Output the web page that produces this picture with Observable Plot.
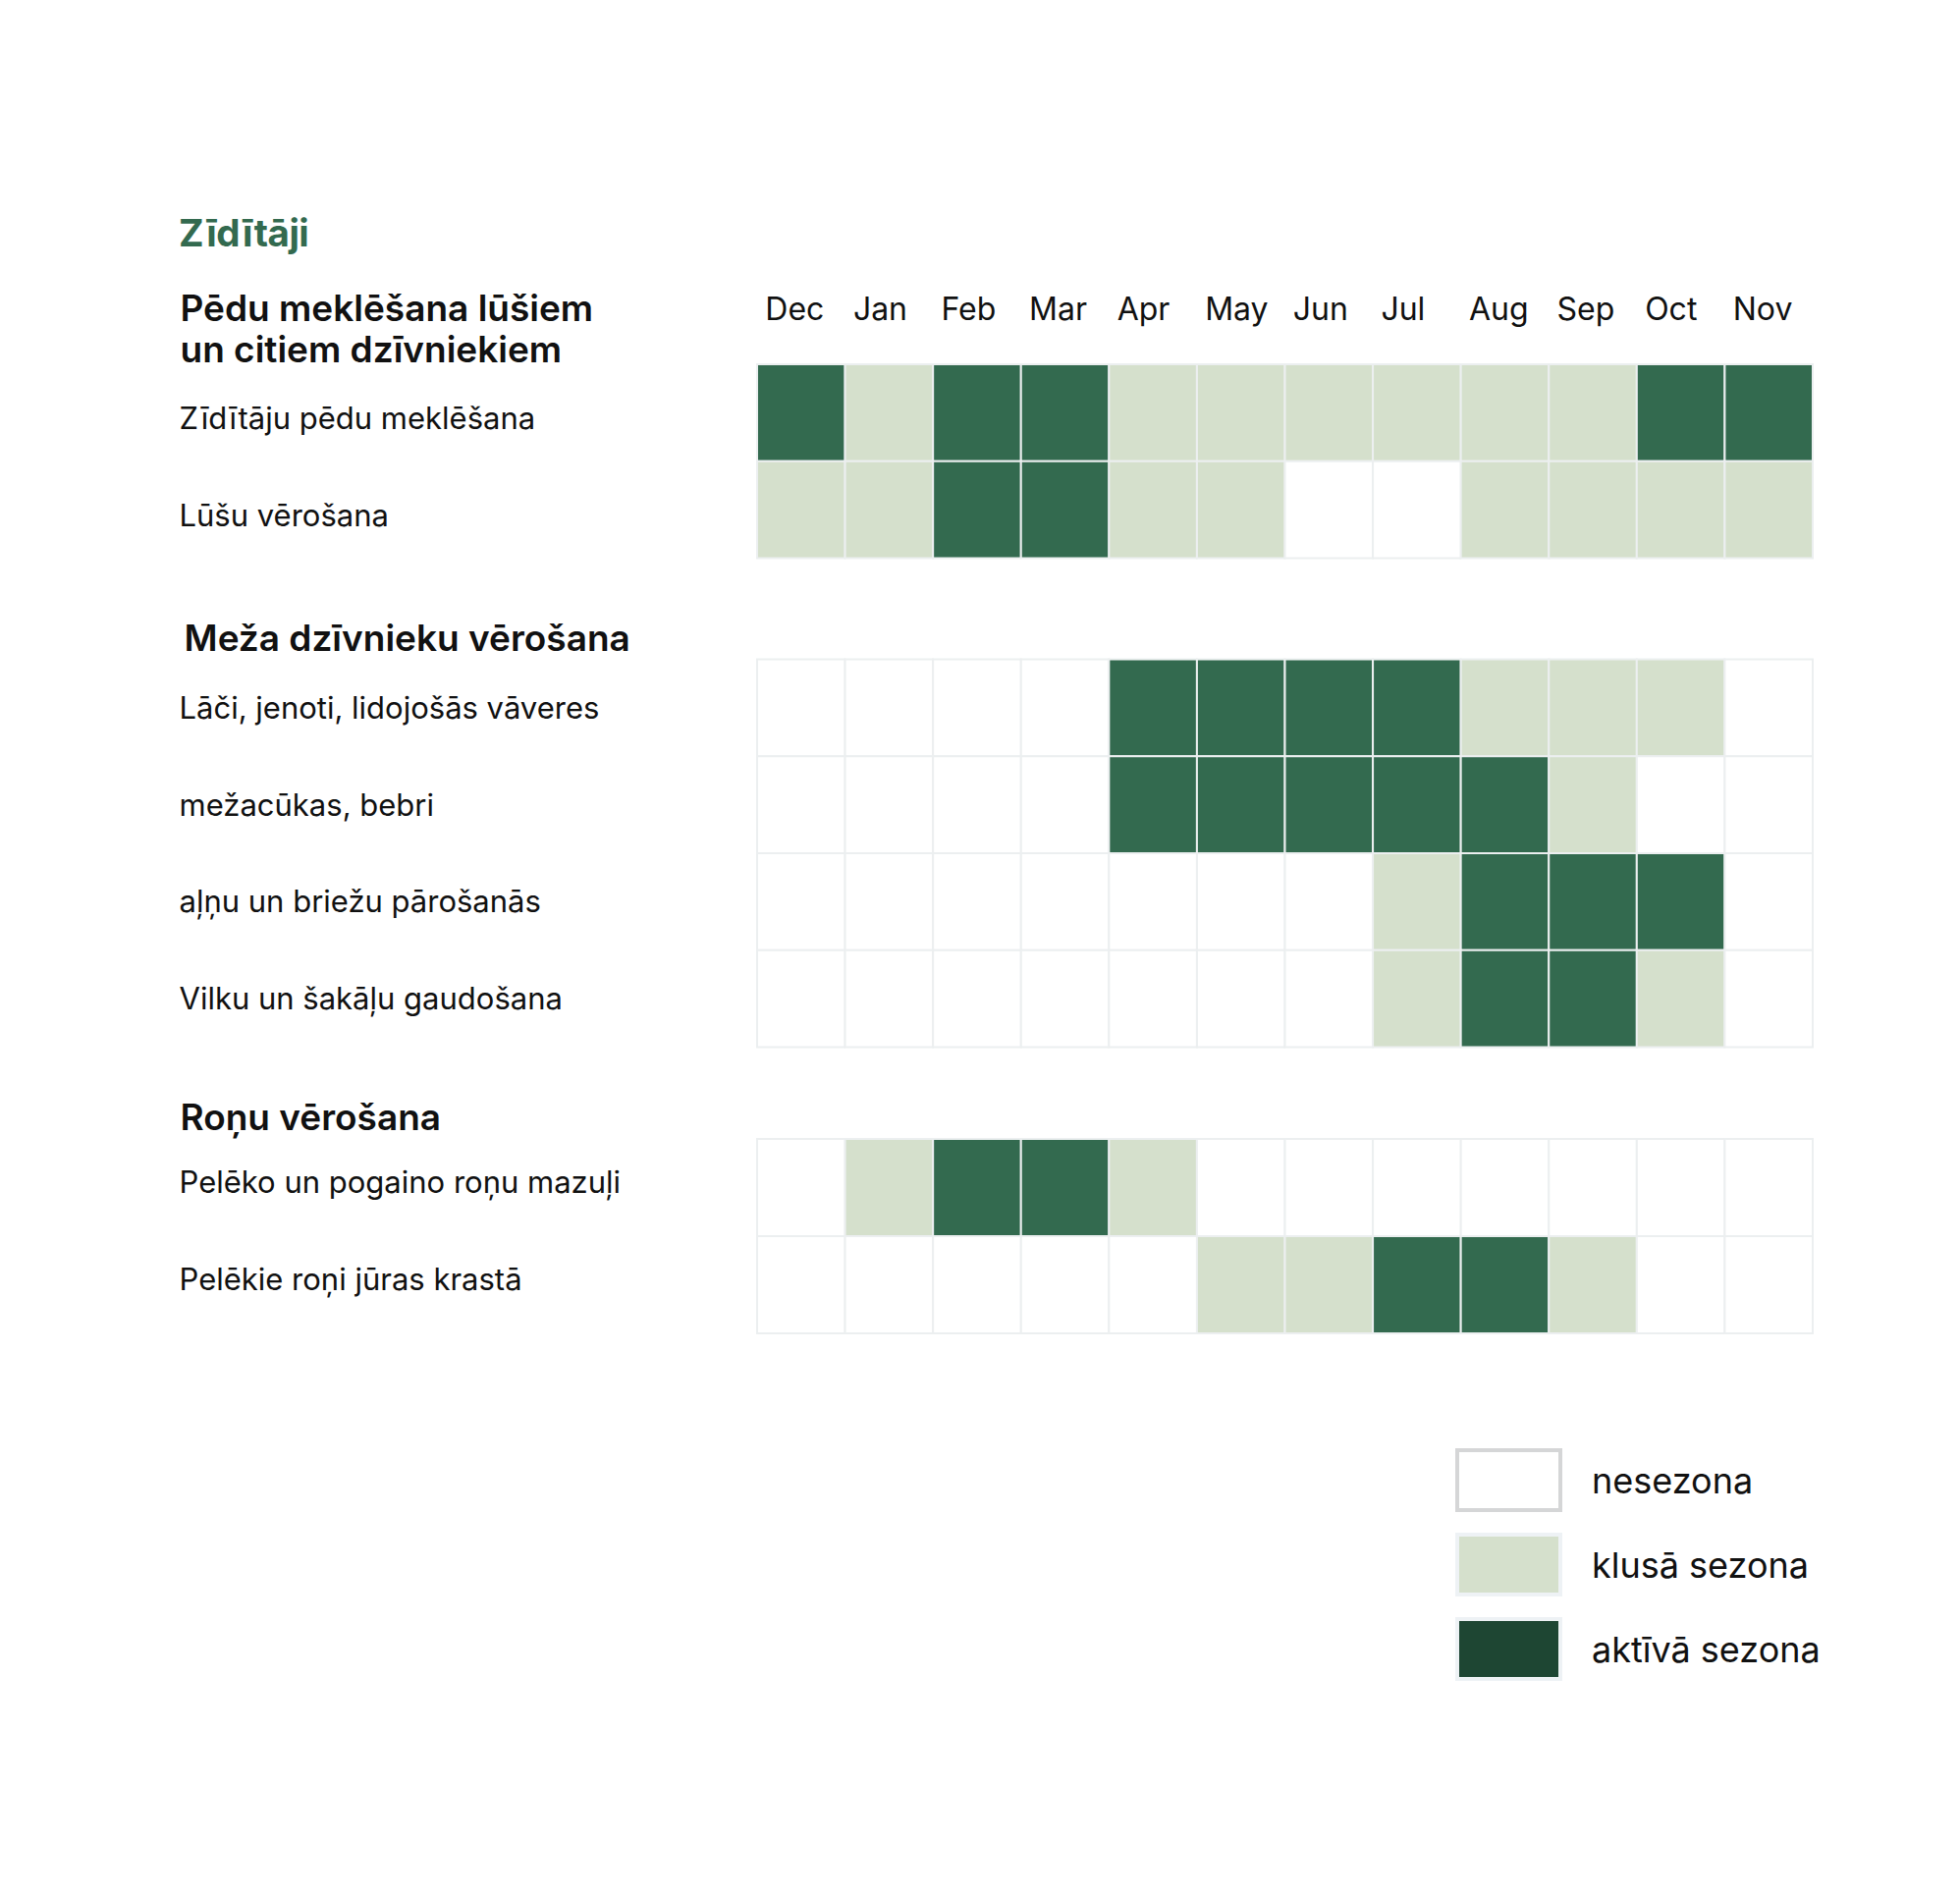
<!DOCTYPE html>
<html>
<head>
<meta charset="utf-8">
<script src="https://cdn.jsdelivr.net/npm/d3@7"></script>
<script src="https://cdn.jsdelivr.net/npm/@observablehq/plot@0.6"></script>
<style>
  html, body { margin: 0; padding: 0; background: #ffffff; }
  #page { position: relative; width: 1996px; height: 1928px; font-family: Inter, sans-serif; color: #111; }
  #title { position: absolute; left: 182px; top: 214px; font-size: 38.5px; font-weight: 700; color: #336a4f; letter-spacing: -0.5px; }
  .grp { position: absolute; left: 0; top: 0; }
  #legend { position: absolute; left: 1482px; top: 1475px; }
  .lg-row { display: flex; align-items: center; height: 65px; margin-bottom: 21px; }
  .lg-sw { box-sizing: border-box; width: 109px; height: 65px; border: 4px solid #eef2f5; }
  .lg-lab { margin-left: 30px; font-size: 36px; color: #111; }
</style>
</head>
<body>
<div id="page">
  <div id="g1" class="grp"></div>
  <div id="g2" class="grp"></div>
  <div id="g3" class="grp"></div>
  <div id="title">Zīdītāji</div>
  <div id="legend"></div>
</div>
<script>
// ---- data ----
const months = ["Dec","Jan","Feb","Mar","Apr","May","Jun","Jul","Aug","Sep","Oct","Nov"];
const states = ["nesezona","klusā sezona","aktīvā sezona"];
const stateColors = ["#ffffff","#d5e0cc","#336a4f"];
const legendColors = ["#ffffff","#d5e0cc","#1e4633"];

const group1Header = "Pēdu meklēšana lūšiem\nun citiem dzīvniekiem";
const group2Header = "Meža dzīvnieku vērošana";
const group3Header = "Roņu vērošana";

const group1Rows = ["Zīdītāju pēdu meklēšana","Lūšu vērošana"];
const group2Rows = ["Lāči, jenoti, lidojošās vāveres","mežacūkas, bebri","aļņu un briežu pārošanās","Vilku un šakāļu gaudošana"];
const group3Rows = ["Pelēko un pogaino roņu mazuļi","Pelēkie roņi jūras krastā"];

// 0 = nesezona, 1 = klusā sezona, 2 = aktīvā sezona (Dec..Nov)
const group1Values = [
  [2,1,2,2,1,1,1,1,1,1,2,2],
  [1,1,2,2,1,1,0,0,1,1,1,1]
];
const group2Values = [
  [0,0,0,0,2,2,2,2,1,1,1,0],
  [0,0,0,0,2,2,2,2,2,1,0,0],
  [0,0,0,0,0,0,0,1,2,2,2,0],
  [0,0,0,0,0,0,0,1,2,2,1,0]
];
const group3Values = [
  [0,1,2,2,1,0,0,0,0,0,0,0],
  [0,0,0,0,0,1,1,2,2,1,0,0]
];

// ---- build one Plot per group ----
function groupChart({rows, values, header, gridTop, gridBottom, headerDx, headerDy, labelDy, showMonths}) {
  const cells = rows.flatMap((r, i) => months.map((m, j) => ({row: r, month: m, state: states[values[i][j]]})));
  const marks = [
    Plot.cell(cells, {x: "month", y: "row", fill: "state", stroke: "#eceff0", strokeWidth: 2, inset: 0}),
    Plot.text(rows, {y: d => d, text: d => d, frameAnchor: "left", textAnchor: "start", lineAnchor: "middle", dx: 182, dy: labelDy, fontSize: 31, fill: "#111"}),
    Plot.text([header], {text: d => d, frameAnchor: "top-left", textAnchor: "start", lineAnchor: "middle", dx: headerDx, dy: headerDy, fontSize: 37, fontWeight: 600, lineHeight: 1.135, fill: "#111"})
  ];
  if (showMonths) {
    marks.push(Plot.text(months, {x: d => d, text: d => d, frameAnchor: "top", textAnchor: "start", lineAnchor: "middle", dx: -37, dy: -56, fontSize: 32, fill: "#111"}));
  }
  return Plot.plot({
    width: 1996,
    height: gridBottom + 8,
    marginTop: gridTop,
    marginBottom: 8,
    marginLeft: 0,
    marginRight: 0,
    style: {fontFamily: "Inter, sans-serif", background: "transparent", color: "#111", overflow: "visible"},
    x: {type: "band", domain: months, range: [771, 1846], padding: 0, round: false, axis: null},
    y: {type: "band", domain: rows, padding: 0, round: false, axis: null},
    color: {type: "ordinal", domain: states, range: stateColors},
    marks
  });
}

document.getElementById("g1").appendChild(groupChart({
  rows: group1Rows, values: group1Values, header: group1Header,
  gridTop: 371, gridBottom: 568.5, headerDx: 183, headerDy: -37, labelDy: 6.5, showMonths: true
}));
document.getElementById("g2").appendChild(groupChart({
  rows: group2Rows, values: group2Values, header: group2Header,
  gridTop: 671.5, gridBottom: 1066.5, headerDx: 187, headerDy: -22.5, labelDy: 0.5, showMonths: false
}));
document.getElementById("g3").appendChild(groupChart({
  rows: group3Rows, values: group3Values, header: group3Header,
  gridTop: 1160, gridBottom: 1358, headerDx: 183, headerDy: -23, labelDy: -5, showMonths: false
}));

// ---- legend ----
const legend = document.getElementById("legend");
states.forEach((s, i) => {
  const row = document.createElement("div");
  row.className = "lg-row";
  const sw = document.createElement("div");
  sw.className = "lg-sw";
  sw.style.background = legendColors[i];
  if (i === 0) sw.style.borderColor = "#d5d6d7";
  const lab = document.createElement("div");
  lab.className = "lg-lab";
  lab.textContent = s;
  row.appendChild(sw);
  row.appendChild(lab);
  legend.appendChild(row);
});
</script>
</body>
</html>
